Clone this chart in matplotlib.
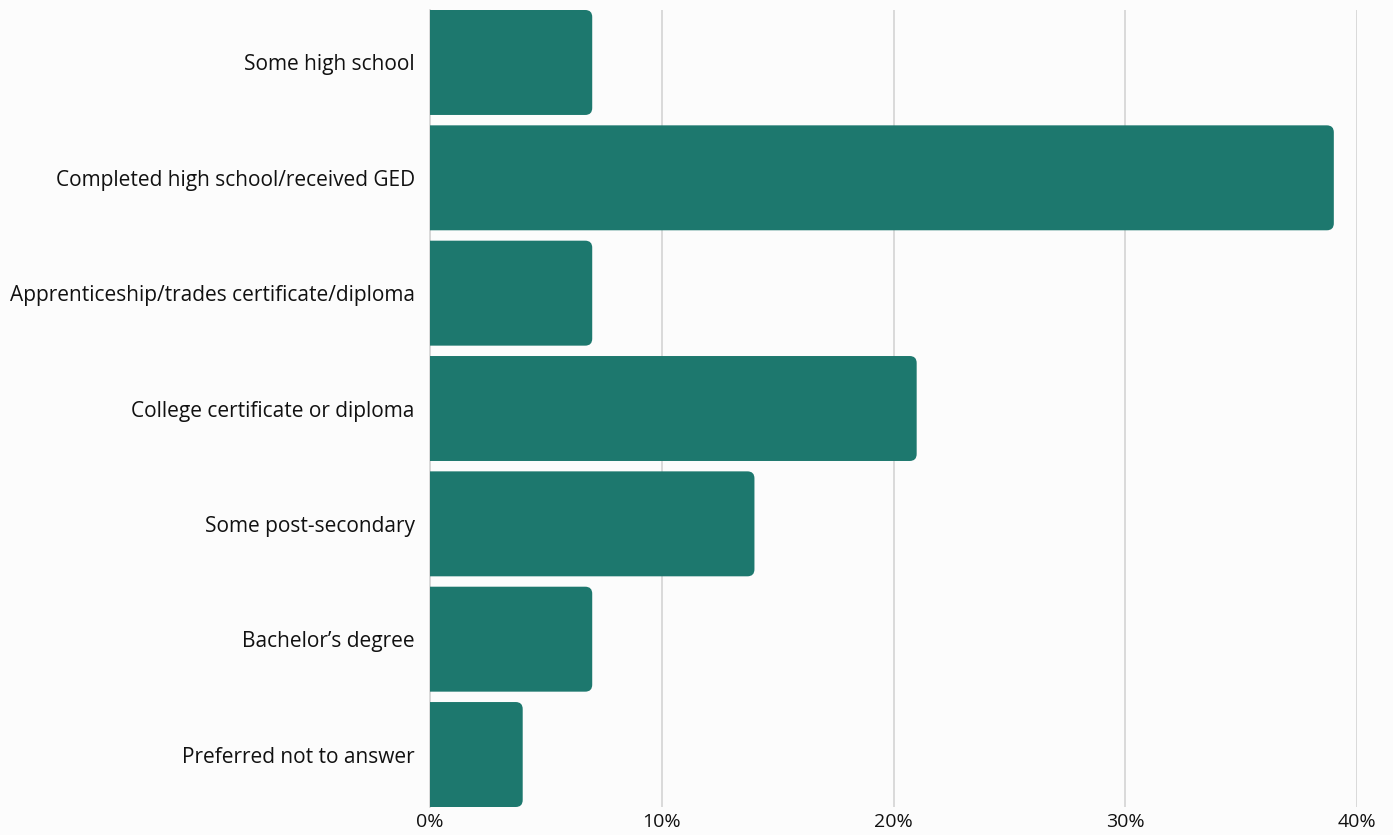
import matplotlib.pyplot as plt
from matplotlib.patches import FancyBboxPatch

categories = [
    "Some high school",
    "Completed high school/received GED",
    "Apprenticeship/trades certificate/diploma",
    "College certificate or diploma",
    "Some post-secondary",
    "Bachelor\u2019s degree",
    "Preferred not to answer",
]
values = [7, 39, 7, 21, 14, 7, 4]
xticks = [0, 10, 20, 30, 40]
xtick_labels = ["0%", "10%", "20%", "30%", "40%"]

bar_color = "#1d786e"
bg = "#fcfcfc"

plt.rcParams['font.family'] = ['Open Sans', 'DejaVu Sans']

fig = plt.figure(figsize=(13.93, 8.35), dpi=100, facecolor=bg)
ax_h = 797
ax = fig.add_axes([430 / 1393, 28 / 835, 927 / 1393, ax_h / 835], facecolor=bg)

n = len(categories)
ypos = list(range(n))
h = 0.91
ax.set_xlim(0, 40)
ax.set_ylim(n - 1 + h / 2, -h / 2)

# pixel size of data units, for rounded corners
x_per_px = 40 / 927
y_per_px = (n - 1 + h) / ax_h
r_px = 7

for y, v in zip(ypos, values):
    patch = FancyBboxPatch(
        (-1, y - h / 2), v + 1, h,
        boxstyle=f"round,pad=0,rounding_size={r_px * x_per_px}",
        mutation_aspect=y_per_px / x_per_px,
        facecolor=bar_color, edgecolor="none", zorder=3,
    )
    ax.add_patch(patch)

ax.set_xticks(xticks)
ax.set_xticklabels(xtick_labels)
ax.set_yticks(ypos)
ax.set_yticklabels(categories)
ax.grid(axis="x", color="#d4d4d4", linewidth=1.2, zorder=0)
ax.tick_params(axis="both", length=0, colors="#111111")
ax.tick_params(axis="y", pad=11, labelsize=15)
ax.tick_params(axis="x", pad=4, labelsize=14)
for s in ["top", "right", "bottom"]:
    ax.spines[s].set_visible(False)
ax.spines["left"].set_color("#d4d4d4")
ax.spines["left"].set_linewidth(1.2)

fig.savefig("out.png", dpi=100, facecolor=bg)
